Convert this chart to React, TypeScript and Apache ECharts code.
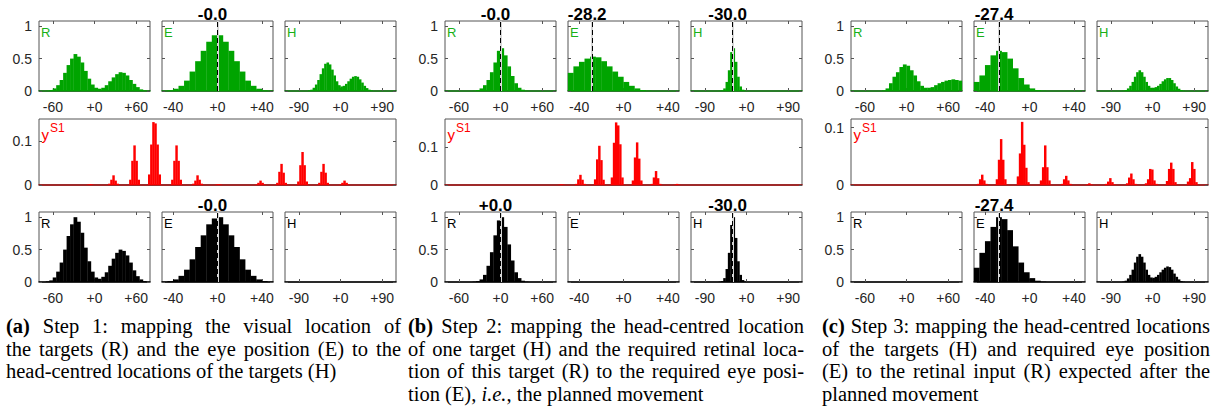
import React, { useEffect, useRef } from "react";
import * as echarts from "echarts";

// ---------- axes ----------
const BIN = 5;
const rangeR = [-80, 80];
const rangeE = [-50, 50];
const rangeH = [-120, 120];
const ticksR = [-60, 0, 60];
const ticksE = [-40, 0, 40];
const ticksH = [-90, 0, 90];
const ticksP = [0, 0.5, 1];
const ticksS1 = [0, 0.1];
const pMax = 1.08;
const s1Max = [0.15, 0.175, 0.115];
const S1_BINS = 170;

// ---------- step 1 ----------
const topRetinalA = [0, 0, 0.005, 0.015, 0.04, 0.09, 0.17, 0.28, 0.4, 0.5, 0.57, 0.53, 0.44, 0.31, 0.19, 0.1, 0.05, 0.035, 0.05, 0.09, 0.15, 0.21, 0.26, 0.29, 0.28, 0.24, 0.17, 0.11, 0.06, 0.025, 0.01, 0];
const topEyeA = [0.003, 0.012, 0.035, 0.08, 0.16, 0.3, 0.46, 0.62, 0.76, 0.86, 0.86, 0.76, 0.62, 0.46, 0.3, 0.16, 0.08, 0.035, 0.012, 0.003];
const topHeadA = [0, 0, 0, 0, 0, 0, 0, 0, 0, 0, 0.01, 0.02, 0.05, 0.1, 0.17, 0.26, 0.35, 0.42, 0.44, 0.41, 0.33, 0.24, 0.15, 0.09, 0.07, 0.08, 0.11, 0.15, 0.19, 0.22, 0.23, 0.22, 0.18, 0.13, 0.08, 0.045, 0.02, 0.008, 0, 0, 0, 0, 0, 0, 0, 0, 0, 0];
const botRetinalA = [0, 0, 0.01, 0.025, 0.07, 0.16, 0.3, 0.5, 0.71, 0.89, 1.0, 0.93, 0.76, 0.53, 0.32, 0.16, 0.07, 0.05, 0.08, 0.15, 0.25, 0.36, 0.45, 0.5, 0.48, 0.41, 0.3, 0.18, 0.09, 0.04, 0.015, 0];
const botEyeA = [0.004, 0.015, 0.04, 0.095, 0.19, 0.35, 0.54, 0.72, 0.89, 0.98, 1.0, 0.89, 0.72, 0.54, 0.35, 0.19, 0.095, 0.04, 0.015, 0.004];
const botHeadA: number[] = [];

// ---------- step 2 ----------
const topRetinalB = [0, 0, 0, 0, 0, 0, 0, 0, 0.005, 0.015, 0.04, 0.09, 0.17, 0.29, 0.44, 0.62, 0.66, 0.55, 0.38, 0.23, 0.12, 0.05, 0.02, 0.005, 0, 0, 0, 0, 0, 0, 0, 0];
const topEyeB = [0.28, 0.38, 0.45, 0.5, 0.53, 0.52, 0.46, 0.38, 0.3, 0.22, 0.14, 0.08, 0.04, 0.015, 0.005, 0, 0, 0, 0, 0];
const topHeadB = [0, 0, 0, 0, 0, 0, 0, 0, 0, 0, 0, 0, 0.005, 0.01, 0.04, 0.14, 0.32, 0.6, 0.66, 0.45, 0.22, 0.07, 0.02, 0.005, 0, 0, 0, 0, 0, 0, 0, 0, 0, 0, 0, 0, 0, 0, 0, 0, 0, 0, 0, 0, 0, 0, 0, 0];
const botRetinalB = [0, 0, 0, 0, 0, 0, 0, 0, 0.005, 0.015, 0.04, 0.11, 0.25, 0.46, 0.72, 0.95, 1.0, 0.85, 0.58, 0.33, 0.15, 0.06, 0.02, 0.005, 0, 0, 0, 0, 0, 0, 0, 0];
const botEyeB: number[] = [];
const botHeadB = [0, 0, 0, 0, 0, 0, 0, 0, 0, 0, 0, 0, 0.005, 0.015, 0.06, 0.2, 0.45, 0.88, 1.0, 0.68, 0.32, 0.11, 0.03, 0.008, 0, 0, 0, 0, 0, 0, 0, 0, 0, 0, 0, 0, 0, 0, 0, 0, 0, 0, 0, 0, 0, 0, 0, 0];

// ---------- step 3 ----------
const topRetinalC = [0, 0, 0, 0, 0, 0, 0, 0, 0, 0.01, 0.04, 0.12, 0.22, 0.29, 0.37, 0.41, 0.39, 0.32, 0.24, 0.15, 0.08, 0.05, 0.05, 0.06, 0.09, 0.12, 0.14, 0.16, 0.17, 0.18, 0.17, 0.16];
const topEyeC = [0.14, 0.24, 0.4, 0.55, 0.62, 0.6, 0.5, 0.35, 0.2, 0.1, 0.04, 0.015, 0.005, 0, 0, 0, 0, 0, 0, 0];
const topHeadC = [0, 0, 0, 0, 0, 0, 0, 0, 0, 0, 0, 0.005, 0.015, 0.04, 0.08, 0.14, 0.22, 0.29, 0.32, 0.29, 0.22, 0.14, 0.08, 0.05, 0.05, 0.06, 0.08, 0.11, 0.15, 0.18, 0.2, 0.2, 0.17, 0.12, 0.07, 0.035, 0.015, 0.005, 0, 0, 0, 0, 0, 0, 0, 0, 0, 0];
const botRetinalC: number[] = [];
const botEyeC = [0.22, 0.45, 0.63, 0.85, 1.0, 0.97, 0.8, 0.55, 0.3, 0.15, 0.06, 0.02, 0.005, 0, 0, 0, 0, 0, 0, 0];
const botHeadC = [0, 0, 0, 0, 0, 0, 0, 0, 0, 0, 0, 0.007, 0.02, 0.055, 0.11, 0.19, 0.3, 0.39, 0.43, 0.39, 0.3, 0.19, 0.11, 0.07, 0.065, 0.08, 0.11, 0.15, 0.19, 0.22, 0.24, 0.23, 0.19, 0.13, 0.08, 0.04, 0.015, 0.005, 0, 0, 0, 0, 0, 0, 0, 0, 0, 0];

// ---------- y^S1 groups: [first bin, values] ----------
const ys1A: [number, number[]][] = [
  [23, [0.001, 0.002, 0.001]],
  [33, [0.003, 0.012, 0.022, 0.01, 0.003]],
  [43, [0.012, 0.055, 0.09, 0.055, 0.012]],
  [52, [0.024, 0.092, 0.143, 0.14, 0.092, 0.024]],
  [63, [0.012, 0.055, 0.09, 0.055, 0.012]],
  [73, [0.003, 0.01, 0.022, 0.012, 0.003]],
  [84, [0.001, 0.002, 0.001]],
  [103, [0.001, 0.005, 0.01, 0.005, 0.001]],
  [113, [0.005, 0.03, 0.048, 0.028, 0.005]],
  [123, [0.008, 0.045, 0.075, 0.045, 0.008]],
  [133, [0.005, 0.03, 0.048, 0.028, 0.005]],
  [143, [0.001, 0.005, 0.01, 0.005, 0.001]],
];
const ys1B: [number, number[]][] = [
  [54, [0.001, 0.002, 0.001]],
  [62, [0.003, 0.015, 0.027, 0.014, 0.003]],
  [71, [0.015, 0.068, 0.104, 0.066, 0.014]],
  [79, [0.02, 0.112, 0.166, 0.158, 0.108, 0.02]],
  [89, [0.012, 0.073, 0.113, 0.07, 0.012]],
  [98, [0.003, 0.02, 0.037, 0.018, 0.003]],
  [109, [0.001, 0.003, 0.001]],
];
const ys1C: [number, number[]][] = [
  [60, [0.002, 0.01, 0.018, 0.008, 0.002]],
  [69, [0.01, 0.044, 0.08, 0.044, 0.01]],
  [79, [0.015, 0.055, 0.11, 0.07, 0.03, 0.005]],
  [90, [0.008, 0.031, 0.069, 0.031, 0.008]],
  [100, [0.002, 0.01, 0.016, 0.008, 0.002]],
  [112, [0.001, 0.003, 0.001]],
  [121, [0.002, 0.006, 0.012, 0.005, 0.001]],
  [131, [0.003, 0.013, 0.02, 0.01, 0.002]],
  [140, [0.003, 0.01, 0.028, 0.027, 0.008, 0.002]],
  [150, [0.007, 0.028, 0.039, 0.028, 0.005]],
  [160, [0.006, 0.012, 0.04, 0.028, 0.005]],
];

// ---------- estimates shown above the boxes ----------
const estTop: (number | null)[][] = [[null, -0, null], [-0, -28.2, -30.0], [null, -27.4, null]];
const estBottom: (number | null)[][] = [[null, -0, null], [0, null, -30.0], [null, -27.4, null]];

// ---------- captions ----------
const captionA = [
  "**(a)** Step 1:  mapping the visual location of",
  "the targets (R) and the eye position (E) to the",
  "head-centred locations of the targets (H)",
];
const captionB = [
  "**(b)** Step 2: mapping the head-centred location",
  "of one target (H) and the required retinal loca-",
  "tion of this target (R) to the required eye posi-",
  "tion (E), _i.e._, the planned movement",
];
const captionC = [
  "**(c)** Step 3: mapping the head-centred locations",
  "of the targets (H) and required eye position",
  "(E) to the retinal input (R) expected after the",
  "planned movement",
];

// ---------- layout & style ----------
const PANEL_LEFT = [39, 445, 851];
const BOX_OFFSET = [0, 123, 246];
const BOX_W = 111;
const MID_W = 357;
const ROW_TOP = [21, 119, 212];
const ROW_H = [70, 66, 70];
const CAPTION_X = [6, 408, 822];
const CAPTION_W = [395, 396, 388];
const CAPTION_Y = [326, 348.5, 371, 393.5];
const CAPTION_SIZE = 20.5;

const SANS = '"Liberation Sans", Arial, Helvetica, sans-serif';
const SERIF = '"Liberation Serif", "Times New Roman", serif';
const FRAME = "#555555";
const TEXT = "#262626";
const GREEN = "#00a400";
const GREEN_TEXT = "#18b018";
const GREEN_BASE = "#006d00";
const RED = "#ff0000";
const RED_BASE = "#9a0000";

function signed(v: number, digits: number) {
  const neg = v < 0 || Object.is(v, -0);
  return (neg ? "-" : "+") + Math.abs(v).toFixed(digits);
}

function buildOption() {
  const grid: any[] = [];
  const xAxis: any[] = [];
  const yAxis: any[] = [];
  const series: any[] = [];
  const graphic: any[] = [];

  const axisDefs = [
    { range: rangeR, ticks: ticksR, letter: "R" },
    { range: rangeE, ticks: ticksE, letter: "E" },
    { range: rangeH, ticks: ticksH, letter: "H" },
  ];
  const topRows = [
    [topRetinalA, topEyeA, topHeadA],
    [topRetinalB, topEyeB, topHeadB],
    [topRetinalC, topEyeC, topHeadC],
  ];
  const bottomRows = [
    [botRetinalA, botEyeA, botHeadA],
    [botRetinalB, botEyeB, botHeadB],
    [botRetinalC, botEyeC, botHeadC],
  ];
  const s1Rows = [ys1A, ys1B, ys1C];

  const tick = (values: number[]) => ({
    show: true,
    inside: true,
    length: 3,
    customValues: values,
    lineStyle: { color: FRAME, width: 1 },
  });
  const hiddenLine = { show: false, onZero: false };

  function addFrame(left: number, top: number, width: number, height: number) {
    grid.push({
      left,
      top,
      width,
      height,
      show: true,
      borderColor: FRAME,
      borderWidth: 1,
      backgroundColor: "transparent",
    });
    return grid.length - 1;
  }

  function addHistogram(
    left: number,
    top: number,
    height: number,
    col: number,
    values: number[],
    estimate: number | null,
    fill: string,
    base: string,
    letterColor: string
  ) {
    const def = axisDefs[col];
    const gi = addFrame(left, top, BOX_W, height);
    const [min, max] = def.range;
    xAxis.push({
      gridIndex: gi,
      type: "value",
      position: "bottom",
      min,
      max,
      axisLine: { show: true, onZero: false, lineStyle: { color: base, width: 1.5 } },
      axisTick: tick(def.ticks),
      axisLabel: {
        show: true,
        customValues: def.ticks,
        formatter: (v: number) => signed(v, 0),
        margin: 9,
        fontSize: 14,
        color: TEXT,
        fontFamily: SANS,
      },
      splitLine: { show: false },
    });
    xAxis.push({
      gridIndex: gi,
      type: "value",
      position: "top",
      min,
      max,
      axisLine: hiddenLine,
      axisTick: tick(def.ticks),
      axisLabel: { show: false },
      splitLine: { show: false },
    });
    yAxis.push({
      gridIndex: gi,
      type: "value",
      position: "left",
      min: 0,
      max: pMax,
      axisLine: hiddenLine,
      axisTick: tick(ticksP),
      axisLabel: {
        show: col === 0,
        customValues: ticksP,
        margin: 7,
        fontSize: 14,
        color: TEXT,
        fontFamily: SANS,
      },
      splitLine: { show: false },
    });
    yAxis.push({
      gridIndex: gi,
      type: "value",
      position: "right",
      min: 0,
      max: pMax,
      axisLine: hiddenLine,
      axisTick: tick(ticksP),
      axisLabel: { show: false },
      splitLine: { show: false },
    });

    const binPx = (BOX_W * BIN) / (max - min);
    const data = values
      .map((v, i) => [min + BIN * (i + 0.5), v])
      .filter((d) => d[1] > 0);

    const s: any = {
      type: "bar",
      xAxisIndex: xAxis.length - 2,
      yAxisIndex: yAxis.length - 2,
      data,
      barWidth: binPx + 0.3,
      itemStyle: { color: fill },
      silent: true,
    };
    if (estimate !== null) {
      s.markLine = {
        silent: true,
        symbol: ["none", "none"],
        animation: false,
        data: [
          {
            xAxis: estimate,
            lineStyle: { color: "#d6d6d6", width: 2, type: "solid" },
            label: { show: false },
          },
          {
            xAxis: estimate,
            lineStyle: { color: "#000000", width: 1, type: [5, 3] },
            label: {
              show: true,
              position: "end",
              distance: -2,
              offset: [-5, 0],
              formatter: signed(estimate, 1),
              fontSize: 17,
              fontWeight: "bold",
              color: "#000000",
              fontFamily: SANS,
            },
          },
        ],
      };
    }
    series.push(s);

    graphic.push({
      type: "text",
      x: left + 2,
      y: top + 11,
      z: 100,
      silent: true,
      style: {
        text: def.letter,
        font: `13px ${SANS}`,
        fill: letterColor,
        verticalAlign: "middle",
        align: "left",
      },
    });
  }

  function addS1(p: number, left: number) {
    const top = ROW_TOP[1];
    const gi = addFrame(left, top, MID_W, ROW_H[1]);
    const cats = Array.from({ length: S1_BINS }, (_, i) => i);
    xAxis.push({
      gridIndex: gi,
      type: "category",
      data: cats,
      position: "bottom",
      boundaryGap: true,
      axisLine: { show: true, onZero: false, lineStyle: { color: RED_BASE, width: 1.5 } },
      axisTick: { show: false },
      axisLabel: { show: false },
      splitLine: { show: false },
    });
    xAxis.push({
      gridIndex: gi,
      type: "category",
      data: cats,
      position: "top",
      axisLine: hiddenLine,
      axisTick: { show: false },
      axisLabel: { show: false },
      splitLine: { show: false },
    });
    yAxis.push({
      gridIndex: gi,
      type: "value",
      position: "left",
      min: 0,
      max: s1Max[p],
      axisLine: hiddenLine,
      axisTick: tick(ticksS1),
      axisLabel: {
        show: true,
        customValues: ticksS1,
        margin: 7,
        fontSize: 14,
        color: TEXT,
        fontFamily: SANS,
      },
      splitLine: { show: false },
    });
    yAxis.push({
      gridIndex: gi,
      type: "value",
      position: "right",
      min: 0,
      max: s1Max[p],
      axisLine: hiddenLine,
      axisTick: tick(ticksS1),
      axisLabel: { show: false },
      splitLine: { show: false },
    });

    const bars = new Array(S1_BINS).fill(0);
    s1Rows[p].forEach(([start, vals]) => {
      vals.forEach((v, i) => {
        bars[start + i] = v;
      });
    });
    series.push({
      type: "bar",
      xAxisIndex: xAxis.length - 2,
      yAxisIndex: yAxis.length - 2,
      data: bars,
      barWidth: MID_W / S1_BINS + 0.35,
      itemStyle: { color: RED },
      silent: true,
    });

    graphic.push({
      type: "text",
      x: left + 2.5,
      y: top + 15,
      z: 100,
      silent: true,
      style: { text: "y", font: `15px ${SANS}`, fill: RED, verticalAlign: "middle", align: "left" },
    });
    graphic.push({
      type: "text",
      x: left + 11,
      y: top + 8.5,
      z: 100,
      silent: true,
      style: { text: "S1", font: `12px ${SANS}`, fill: RED, verticalAlign: "middle", align: "left" },
    });
  }

  for (let p = 0; p < 3; p++) {
    const left = PANEL_LEFT[p];
    for (let c = 0; c < 3; c++) {
      addHistogram(
        left + BOX_OFFSET[c],
        ROW_TOP[0],
        ROW_H[0],
        c,
        topRows[p][c],
        estTop[p][c],
        GREEN,
        GREEN_BASE,
        GREEN_TEXT
      );
    }
    addS1(p, left);
    for (let c = 0; c < 3; c++) {
      addHistogram(
        left + BOX_OFFSET[c],
        ROW_TOP[2],
        ROW_H[2],
        c,
        bottomRows[p][c],
        estBottom[p][c],
        "#000000",
        "#000000",
        "#000000"
      );
    }
  }

  // captions: each word placed on its own so full lines can be justified
  const ctx = document.createElement("canvas").getContext("2d")!;
  type Part = { text: string; weight: string; style: string };
  const fontOf = (p: Part) => `${p.style} ${p.weight} ${CAPTION_SIZE}px ${SERIF}`;
  const measure = (p: Part) => {
    ctx.font = fontOf(p);
    return ctx.measureText(p.text).width;
  };
  const parseWord = (word: string): Part[] => {
    const parts: Part[] = [];
    const re = /\*\*([^*]+)\*\*|_([^_]+)_|([^*_]+)/g;
    let m: RegExpExecArray | null;
    while ((m = re.exec(word))) {
      if (m[1]) parts.push({ text: m[1], weight: "bold", style: "normal" });
      else if (m[2]) parts.push({ text: m[2], weight: "normal", style: "italic" });
      else parts.push({ text: m[3], weight: "normal", style: "normal" });
    }
    return parts;
  };
  const spaceW = measure({ text: " ", weight: "normal", style: "normal" });

  [captionA, captionB, captionC].forEach((lines, ci) => {
    lines.forEach((line, li) => {
      const words = line.split(/\s+/).filter(Boolean).map(parseWord);
      const widths = words.map((ps) => ps.reduce((s, p) => s + measure(p), 0));
      const total = widths.reduce((a, b) => a + b, 0);
      const last = li === lines.length - 1;
      const gap =
        last || words.length < 2 ? spaceW : (CAPTION_W[ci] - total) / (words.length - 1);
      let x = CAPTION_X[ci];
      words.forEach((ps) => {
        ps.forEach((p) => {
          graphic.push({
            type: "text",
            x,
            y: CAPTION_Y[li],
            silent: true,
            style: {
              text: p.text,
              font: fontOf(p),
              fill: "#000000",
              verticalAlign: "middle",
              align: "left",
            },
          });
          x += measure(p);
        });
        x += gap;
      });
    });
  });

  return {
    animation: false,
    backgroundColor: "#ffffff",
    textStyle: { fontFamily: SANS },
    grid,
    xAxis,
    yAxis,
    series,
    graphic,
  };
}

export default function App() {
  const ref = useRef<HTMLDivElement>(null);
  useEffect(() => {
    if (!ref.current) return;
    const chart = echarts.init(ref.current, null, { renderer: "svg" });
    chart.setOption(buildOption() as any);
    return () => chart.dispose();
  }, []);
  return (
    <div
      ref={ref}
      style={{ position: "absolute", left: 0, top: 0, width: 1214, height: 418, background: "#fff" }}
    />
  );
}
